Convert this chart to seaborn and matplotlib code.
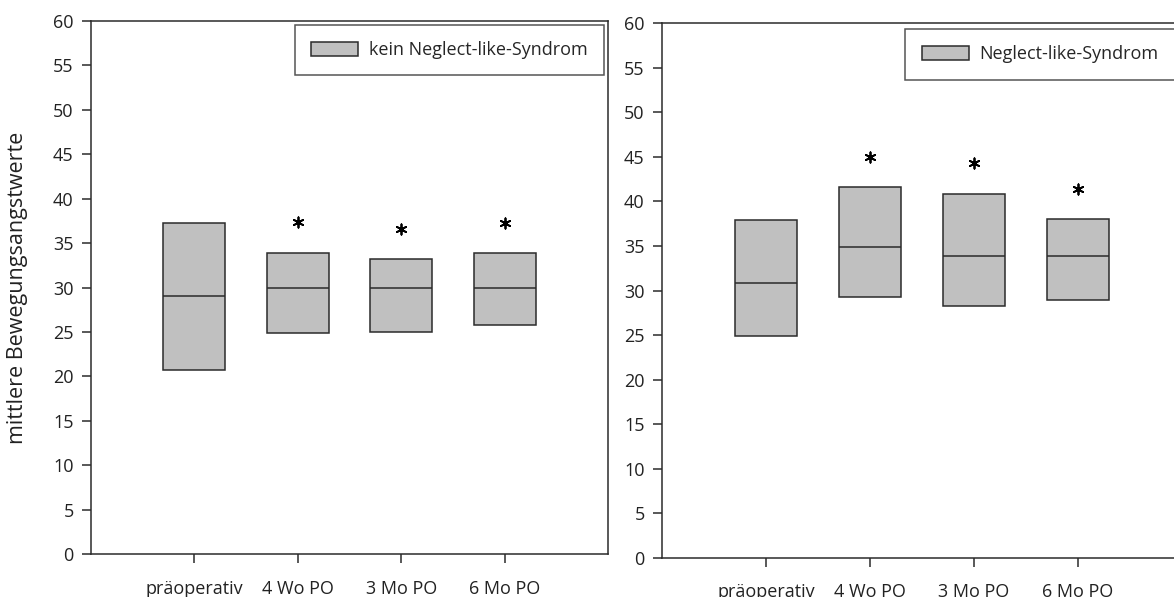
import pandas as pd
import matplotlib.pyplot as plt
import seaborn as sns
from matplotlib.patches import Patch

# ── Data (quartile boxes, no whiskers) ────────────────────────
categories = ["präoperativ", "4 Wo PO", "3 Mo PO", "6 Mo PO"]

kein_q1 = [20.7, 24.9, 25.0, 25.8]
kein_median = [29.0, 30.0, 30.0, 30.0]
kein_q3 = [37.3, 33.9, 33.2, 33.9]
kein_star_cats = ["4 Wo PO", "3 Mo PO", "6 Mo PO"]
kein_star_y = [37.4, 36.6, 37.3]

neg_q1 = [24.9, 29.3, 28.3, 28.9]
neg_median = [30.9, 34.9, 33.9, 33.9]
neg_q3 = [37.9, 41.6, 40.8, 38.0]
neg_star_cats = ["4 Wo PO", "3 Mo PO", "6 Mo PO"]
neg_star_y = [45.0, 44.3, 41.4]

ylabel = "mittlere Bewegungsangstwerte"
fill = "#c0c0c0"
edge = "#2b2b2b"


def box_table(q1, med, q3):
    # five points per group reproduce q1 / median / q3 exactly
    rows = []
    for cat, a, m, b in zip(categories, q1, med, q3):
        for v in (a, a, m, b, b):
            rows.append({"Zeitpunkt": cat, "Wert": v})
    return pd.DataFrame(rows)


sns.set_theme(style="ticks")
plt.rcParams['font.family'] = ['Open Sans', 'DejaVu Sans']
plt.rcParams['axes.edgecolor'] = edge
plt.rcParams['axes.linewidth'] = 1.1
plt.rcParams['xtick.color'] = edge
plt.rcParams['ytick.color'] = edge
plt.rcParams['xtick.major.size'] = 6.5
plt.rcParams['ytick.major.size'] = 6.5
plt.rcParams['xtick.major.width'] = 1.1
plt.rcParams['ytick.major.width'] = 1.1

fig = plt.figure(figsize=(11.74, 5.97), dpi=100)
ax1 = fig.add_axes([0.0775, 0.0715, 0.4404, 0.8938])
ax2 = fig.add_axes([0.5639, 0.0658, 0.4429, 0.8951])

panels = [
    (ax1, box_table(kein_q1, kein_median, kein_q3), kein_star_cats, kein_star_y,
     "kein Neglect-like-Syndrom", "upper right", (0.992, 0.992)),
    (ax2, box_table(neg_q1, neg_median, neg_q3), neg_star_cats, neg_star_y,
     "Neglect-like-Syndrom", "upper left", (0.468, 0.989)),
]

for ax, df, star_cats, star_y, label, loc, anchor in panels:
    sns.boxplot(data=df, x="Zeitpunkt", y="Wert", order=categories, ax=ax,
                whis=0, showcaps=False, showfliers=False, width=0.6,
                color=fill, linecolor=edge, linewidth=1.1, saturation=1)
    star_x = [categories.index(c) for c in star_cats]
    sns.scatterplot(x=star_x, y=star_y, ax=ax, marker=(6, 2, 0), s=55,
                    color="black", linewidth=1.3, edgecolor="black")

    ax.set_xlim(-1, 4)
    ax.set_ylim(0, 60)
    ax.set_yticks(range(0, 61, 5))
    ax.set_xlabel("")
    ax.set_ylabel("")
    ax.tick_params(axis="both", labelsize=13, colors=edge, labelcolor="#222222")
    ax.tick_params(axis="x", pad=12)
    ax.tick_params(axis="y", pad=6)
    for s in ax.spines.values():
        s.set_visible(True)

    handle = Patch(facecolor=fill, edgecolor=edge, linewidth=1.1)
    leg = ax.legend([handle], [label], loc=loc, bbox_to_anchor=anchor,
                    fontsize=13, frameon=True, fancybox=False,
                    handlelength=2.6, handleheight=0.85, handletextpad=0.6,
                    borderpad=0.9, borderaxespad=0)
    leg.get_frame().set_edgecolor(edge)
    leg.get_frame().set_linewidth(1.1)

ax1.set_ylabel(ylabel, fontsize=15.5, color="#222222")
ax1.yaxis.set_label_coords(-0.122, 0.5)

plt.savefig("out.png", dpi=100)
